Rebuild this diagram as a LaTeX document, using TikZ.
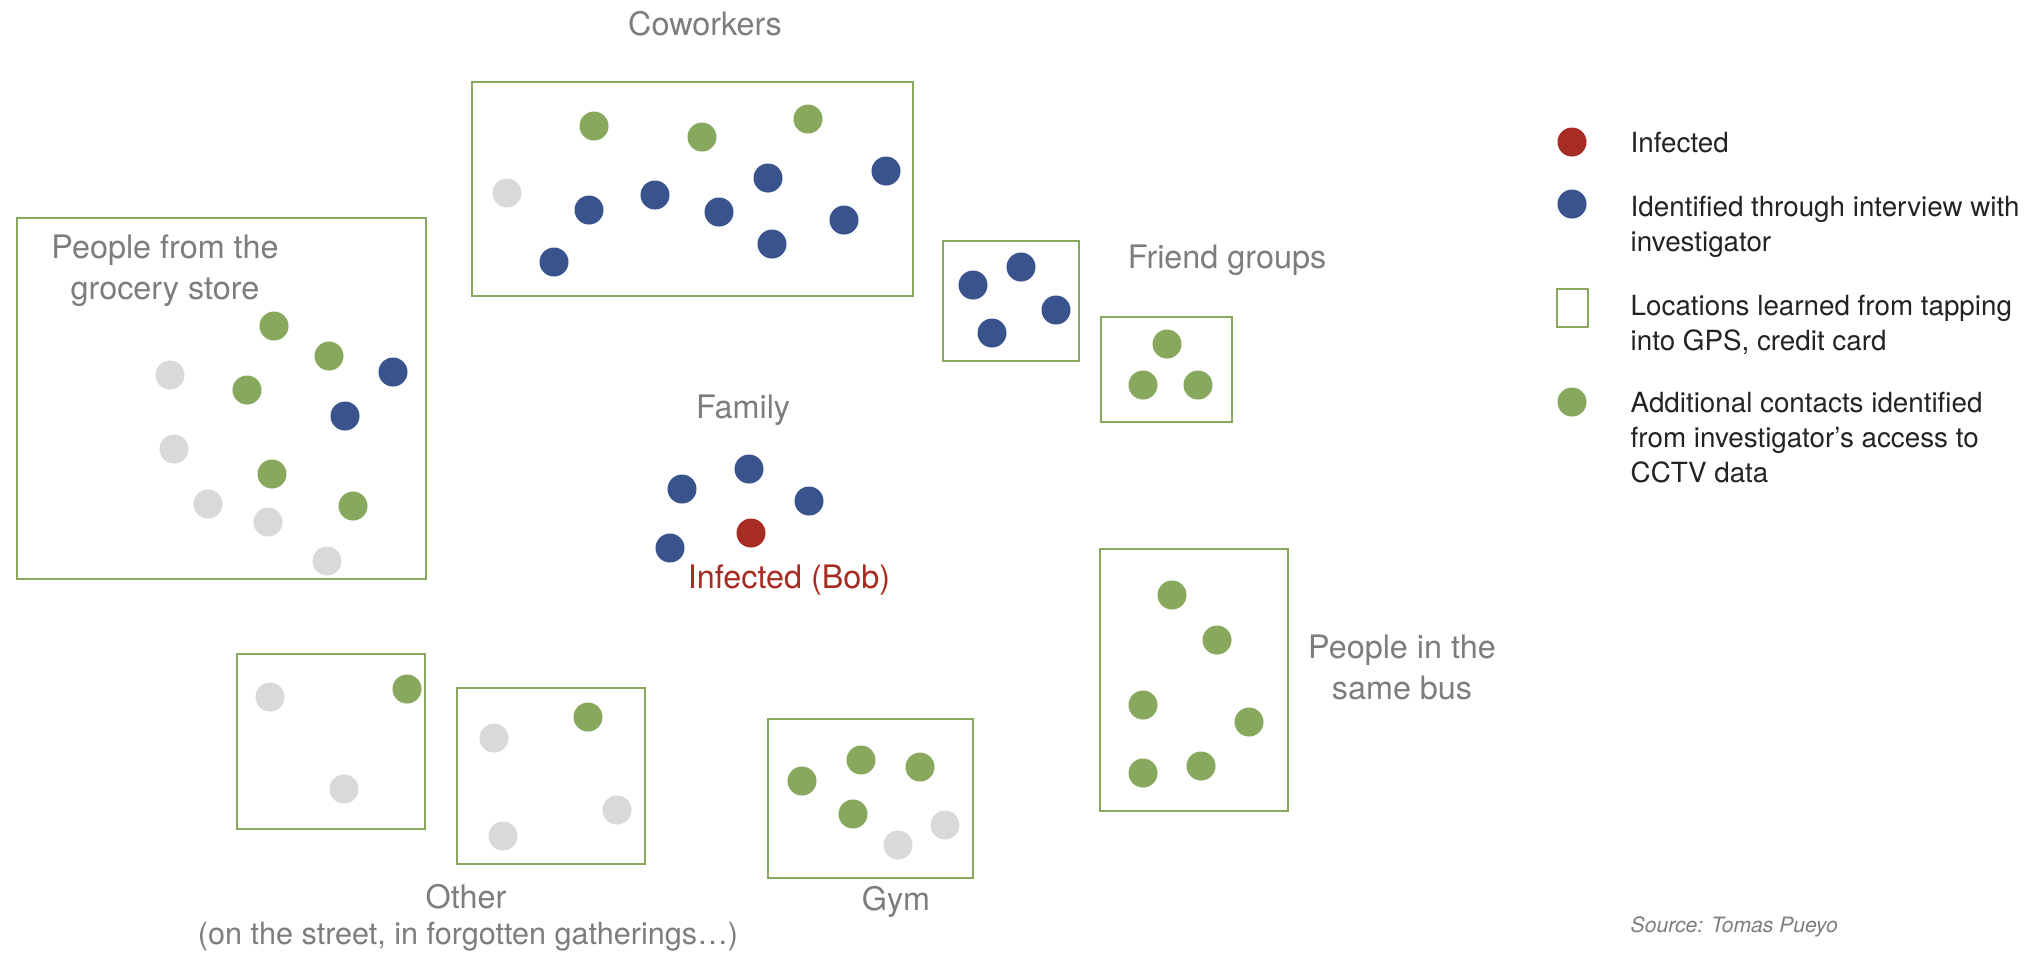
\documentclass[tikz,border=0pt]{standalone}
\usepackage{fontspec}
\setmainfont{TeX Gyre Heros}
\definecolor{infectedred}{RGB}{166,44,36}
\definecolor{interviewblue}{RGB}{57,83,141}
\definecolor{cctvgreen}{RGB}{136,168,94}
\definecolor{unknowngray}{RGB}{217,217,217}
\definecolor{labelgray}{RGB}{125,125,125}
\definecolor{legendtext}{RGB}{35,35,35}

\begin{document}
\begin{tikzpicture}[x=0.01cm,y=-0.01cm,
    person/.style={circle,inner sep=0,minimum size=\persondiameter cm},
    infected/.style={person,fill=infectedred},
    interviewed/.style={person,fill=interviewblue},
    cctv/.style={person,fill=cctvgreen},
    unknown/.style={person,fill=unknowngray},
    place/.style={draw=cctvgreen,line width=\placeline pt},
    grouplabel/.style={text=labelgray,font=\grouplabelfont,align=center,inner sep=0},
    legendlabel/.style={text=legendtext,font=\legendfont,align=left,inner sep=0,anchor=north west}]
    \pgfmathsetmacro{\persondiameter}{0.29}
    \pgfmathsetmacro{\placeline}{0.7}
    \pgfmathsetmacro{\legendx}{1630}
    \providecommand{\grouplabelfont}{\fontsize{9.2pt}{11.7pt}\selectfont}
    \providecommand{\notefont}{\fontsize{8.7pt}{11pt}\selectfont}
    \providecommand{\legendfont}{\fontsize{7.9pt}{10pt}\selectfont}
    \providecommand{\sourcefont}{\fontsize{6pt}{7pt}\selectfont\itshape}
    \useasboundingbox (0,0) rectangle (2036,953);
    % locations
    \draw[place] (17,218) rectangle (426,579);
    \draw[place] (472,82) rectangle (913,296);
    \draw[place] (943,241) rectangle (1079,361);
    \draw[place] (1101,317) rectangle (1232,422);
    \draw[place] (1100,549) rectangle (1288,811);
    \draw[place] (237,654) rectangle (425,829);
    \draw[place] (457,688) rectangle (645,864);
    \draw[place] (768,719) rectangle (973,878);
    % coworkers
    \foreach \x/\y [count=\i] in {594/126,702/137,808/119}
        \node[cctv] (coworker-c\i) at (\x,\y) {};
    \node[unknown] (coworker-u1) at (507,193) {};
    \foreach \x/\y [count=\i] in {589/210,655/195,719/212,768/178,886/171,844/220,772/244,554/262}
        \node[interviewed] (coworker-b\i) at (\x,\y) {};
    % grocery store
    \foreach \x/\y [count=\i] in {274/326,329/356,247/390,272/474,353/506}
        \node[cctv] (grocery-c\i) at (\x,\y) {};
    \foreach \x/\y [count=\i] in {393/372,345/416}
        \node[interviewed] (grocery-b\i) at (\x,\y) {};
    \foreach \x/\y [count=\i] in {170/375,174/449,208/504,268/522,327/561}
        \node[unknown] (grocery-u\i) at (\x,\y) {};
    % family
    \foreach \x/\y [count=\i] in {682/489,749/469,809/501,670/548}
        \node[interviewed] (family-b\i) at (\x,\y) {};
    \node[infected] (bob) at (751,533) {};
    % friend groups
    \foreach \x/\y [count=\i] in {973/285,1021/267,1056/310,992/333}
        \node[interviewed] (friends-b\i) at (\x,\y) {};
    \foreach \x/\y [count=\i] in {1167/344,1143/385,1198/385}
        \node[cctv] (friends-c\i) at (\x,\y) {};
    % bus
    \foreach \x/\y [count=\i] in {1172/595,1217/640,1143/705,1249/722,1143/773,1201/766}
        \node[cctv] (bus-c\i) at (\x,\y) {};
    % other
    \foreach \x/\y [count=\i] in {270/697,344/789,494/738,617/810,503/836}
        \node[unknown] (other-u\i) at (\x,\y) {};
    \foreach \x/\y [count=\i] in {407/689,588/717}
        \node[cctv] (other-c\i) at (\x,\y) {};
    % gym
    \foreach \x/\y [count=\i] in {802/781,861/760,920/767,853/814}
        \node[cctv] (gym-c\i) at (\x,\y) {};
    \foreach \x/\y [count=\i] in {898/845,945/825}
        \node[unknown] (gym-u\i) at (\x,\y) {};
    % labels
    \node[grouplabel] (coworkers) at (705,24) {Coworkers};
    \node[grouplabel] (grocery) at (165,271) {People from the\\grocery store};
    \node[grouplabel] (family) at (743,410) {Family};
    \node[grouplabel,text=infectedred] (bob-label) at (789,580) {Infected (Bob)};
    \node[grouplabel] (friends) at (1227,260) {Friend groups};
    \node[grouplabel] (bus) at (1402,667) {People in the\\same bus};
    \node[grouplabel] (other) at (466,897) {Other};
    \node[grouplabel,font=\notefont] (other-note) at (468,937) {(on the street, in forgotten gatherings…)};
    \node[grouplabel] (gym) at (896,902) {Gym};
    % legend
    \node[infected] (key-infected) at (1572,142) {};
    \node[legendlabel,anchor=west] (key-infected-text) at (\legendx,143) {Infected};
    \node[interviewed] (key-interviewed) at (1572,204) {};
    \node[legendlabel] (key-interviewed-text) at (\legendx,195) {Identified through interview with\\investigator};
    \draw[place] (1557,289) rectangle (1588,327);
    \node[legendlabel] (key-place-text) at (\legendx,294) {Locations learned from tapping\\into GPS, credit card};
    \node[cctv] (key-cctv) at (1572,402) {};
    \node[legendlabel] (key-cctv-text) at (\legendx,391) {Additional contacts identified\\from investigator’s access to\\CCTV data};
    \node[text=labelgray,font=\sourcefont,anchor=west,inner sep=0] (source) at (\legendx,927) {Source: Tomas Pueyo};
\end{tikzpicture}
\end{document}
